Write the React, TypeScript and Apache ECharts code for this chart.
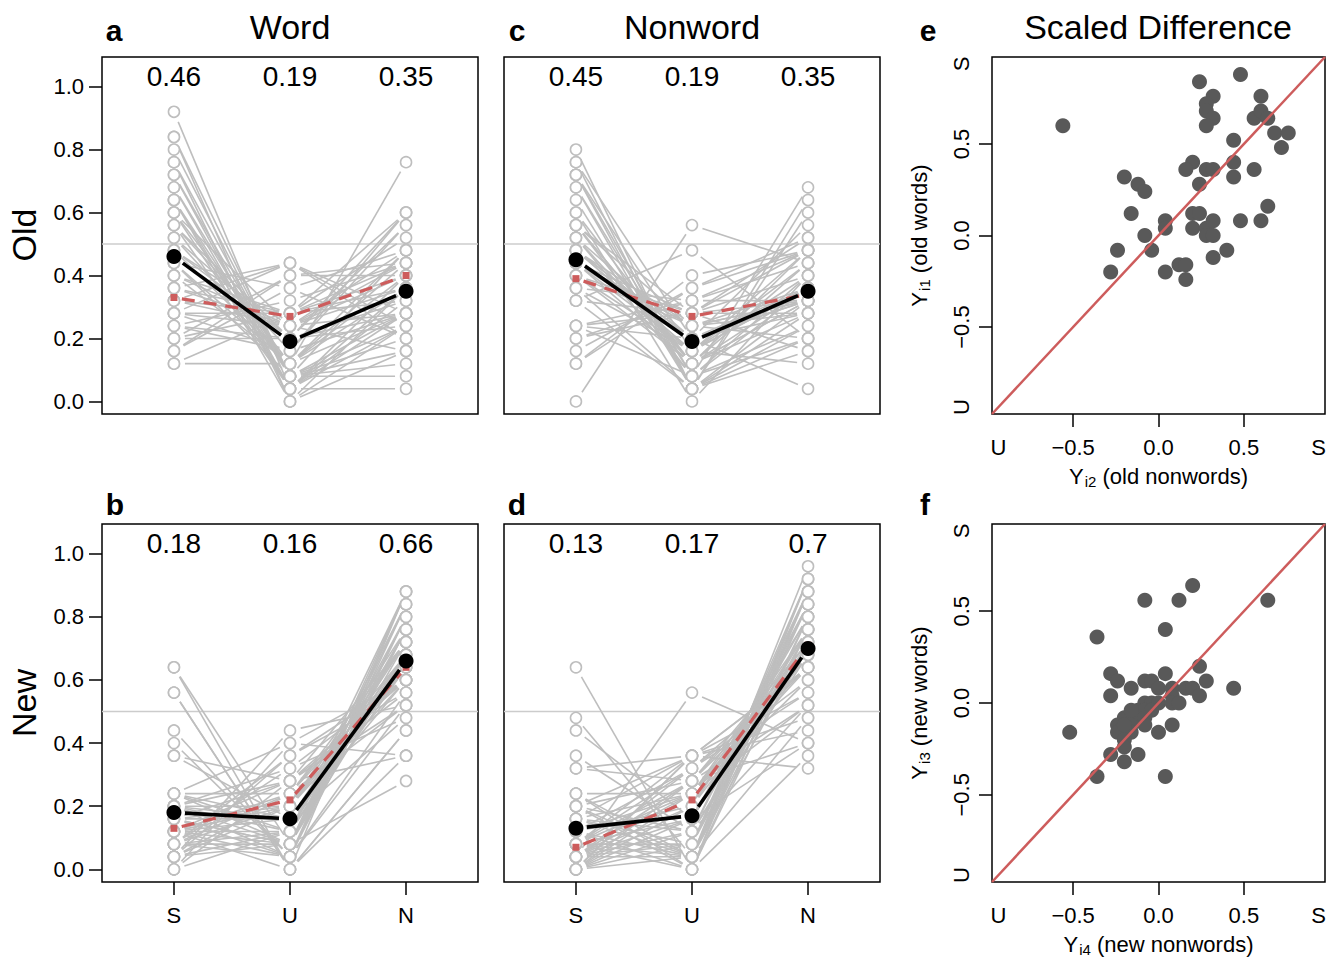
import React, { useEffect, useRef } from "react";
import * as echarts from "echarts";

const FONT = "'Liberation Sans', Arial, Helvetica, sans-serif";

// ---------- data ----------
const categories = ["S", "U", "N"];
const categoryPos = [1, 2, 3];
const yTicks = [0, 0.2, 0.4, 0.6, 0.8, 1.0];
const refLevel = 0.5;
const meanLabelLevel = 1.032;

// Panel a: old words (per subject)
const oldWordS = [0.64,0.84,0.92,0.84,0.76,0.80,0.72,0.72,0.68,0.68, 0.76,0.64,0.60,0.64,0.60,0.56,0.56,0.52,0.48,0.52, 0.56,0.44,0.60,0.48,0.44,0.40,0.48,0.40,0.36,0.32, 0.36,0.28,0.28,0.24,0.32,0.20,0.28,0.44,0.24,0.40, 0.12,0.20,0.24,0.16,0.20,0.12,0.28,0.16,0.32,0.36];
const oldWordU = [0.04,0.00,0.04,0.08,0.00,0.08,0.04,0.08,0.08,0.04, 0.08,0.00,0.04,0.08,0.12,0.04,0.16,0.20,0.12,0.12, 0.20,0.08,0.24,0.20,0.12,0.12,0.24,0.28,0.28,0.28, 0.24,0.16,0.24,0.20,0.24,0.20,0.28,0.36,0.16,0.24, 0.12,0.28,0.32,0.36,0.40,0.28,0.44,0.40,0.44,0.44];
const oldWordN = [0.32,0.16,0.04,0.08,0.24,0.12,0.24,0.20,0.24,0.28, 0.16,0.36,0.36,0.28,0.28,0.40,0.28,0.28,0.40,0.36, 0.24,0.48,0.16,0.32,0.44,0.48,0.28,0.32,0.36,0.40, 0.40,0.56,0.48,0.56,0.44,0.60,0.44,0.20,0.60,0.36, 0.76,0.52,0.44,0.48,0.40,0.60,0.28,0.44,0.24,0.20];
const oldWordMeans = [0.46, 0.19, 0.35];
const oldWordRed = [0.33, 0.27, 0.40];

// Panel c: old nonwords
const oldNonwordS = [0.00,0.44,0.60,0.64,0.48,0.48,0.40,0.52,0.44,0.72, 0.68,0.72,0.72,0.80,0.76,0.56,0.56,0.52,0.76,0.36, 0.44,0.56,0.44,0.40,0.16,0.20,0.20,0.32,0.24,0.32, 0.44,0.48,0.44,0.32,0.36,0.48,0.48,0.56,0.60,0.68, 0.24,0.12,0.24,0.12,0.36,0.40,0.40,0.24,0.56,0.52];
const oldNonwordU = [0.56,0.20,0.12,0.04,0.16,0.20,0.12,0.20,0.16,0.16, 0.08,0.08,0.04,0.04,0.04,0.12,0.12,0.08,0.20,0.16, 0.28,0.28,0.12,0.16,0.36,0.32,0.28,0.48,0.20,0.28, 0.24,0.24,0.24,0.04,0.04,0.20,0.16,0.08,0.00,0.04, 0.32,0.36,0.28,0.40,0.32,0.28,0.24,0.08,0.24,0.12];
const oldNonwordN = [0.44,0.36,0.28,0.32,0.36,0.32,0.48,0.28,0.40,0.12, 0.24,0.20,0.24,0.16,0.20,0.32,0.32,0.40,0.04,0.48, 0.28,0.16,0.44,0.44,0.48,0.48,0.52,0.20,0.56,0.40, 0.32,0.28,0.32,0.64,0.60,0.32,0.36,0.36,0.40,0.28, 0.44,0.52,0.48,0.48,0.32,0.32,0.36,0.68,0.20,0.36];
const oldNonwordMeans = [0.45, 0.19, 0.35];
const oldNonwordRed = [0.39, 0.27, 0.34];

// Panel b: new words
const newWordS = [0.64,0.56,0.64,0.56,0.40,0.44,0.36,0.24,0.16,0.20, 0.24,0.12,0.20,0.16,0.24,0.12,0.20,0.36,0.16,0.20, 0.12,0.08,0.16,0.08,0.12,0.20,0.24,0.16,0.08,0.12, 0.12,0.04,0.20,0.08,0.12,0.00,0.16,0.08,0.04,0.24, 0.12,0.04,0.08,0.08,0.00,0.04,0.04,0.00,0.20,0.04];
const newWordU = [0.00,0.00,0.08,0.00,0.04,0.04,0.16,0.08,0.04,0.04, 0.12,0.00,0.08,0.08,0.16,0.04,0.12,0.28,0.08,0.16, 0.08,0.04,0.16,0.08,0.12,0.20,0.24,0.20,0.12,0.16, 0.20,0.12,0.28,0.20,0.24,0.12,0.28,0.24,0.20,0.40, 0.28,0.24,0.32,0.36,0.28,0.36,0.44,0.40,0.32,0.08];
const newWordN = [0.36,0.44,0.28,0.44,0.56,0.52,0.48,0.68,0.80,0.76, 0.64,0.88,0.72,0.76,0.60,0.84,0.68,0.36,0.76,0.64, 0.80,0.88,0.68,0.84,0.76,0.60,0.52,0.64,0.80,0.72, 0.68,0.84,0.52,0.72,0.64,0.88,0.56,0.68,0.76,0.36, 0.60,0.72,0.60,0.56,0.72,0.60,0.52,0.60,0.48,0.88];
const newWordMeans = [0.18, 0.16, 0.66];
const newWordRed = [0.13, 0.22, 0.64];

// Panel d: new nonwords
const newNonwordS = [0.24,0.08,0.16,0.64,0.00,0.08,0.36,0.04,0.00,0.16, 0.04,0.32,0.44,0.04,0.08,0.12,0.20,0.20,0.48,0.00, 0.24,0.08,0.00,0.00,0.04,0.16,0.12,0.12,0.16,0.04, 0.00,0.04,0.12,0.08,0.00,0.20,0.20,0.04,0.08,0.04, 0.24,0.12,0.16,0.08,0.00,0.04,0.00,0.32,0.08,0.20];
const newNonwordU = [0.04,0.16,0.04,0.00,0.36,0.04,0.12,0.32,0.24,0.12, 0.12,0.36,0.16,0.20,0.08,0.04,0.04,0.00,0.04,0.28, 0.00,0.00,0.08,0.04,0.04,0.08,0.00,0.24,0.24,0.08, 0.20,0.16,0.20,0.32,0.16,0.28,0.12,0.28,0.24,0.56, 0.24,0.32,0.36,0.36,0.12,0.24,0.36,0.28,0.28,0.36];
const newNonwordN = [0.72,0.76,0.80,0.36,0.64,0.88,0.52,0.64,0.76,0.72, 0.84,0.32,0.40,0.76,0.84,0.84,0.76,0.80,0.48,0.72, 0.76,0.92,0.92,0.96,0.92,0.76,0.88,0.64,0.60,0.88, 0.80,0.80,0.68,0.60,0.84,0.52,0.68,0.68,0.68,0.40, 0.52,0.56,0.48,0.56,0.88,0.72,0.64,0.40,0.64,0.44];
const newNonwordMeans = [0.13, 0.17, 0.7];
const newNonwordRed = [0.07, 0.22, 0.71];

// Panel e: scaled differences, old items
const oldNonwordDiff = [-0.56,0.24,0.48,0.60,0.32,0.28,0.28,0.32,0.28,0.56, 0.60,0.64,0.68,0.76,0.72,0.44,0.44,0.44,0.56,0.20, 0.16,0.28,0.32,0.24,-0.20,-0.12,-0.08,-0.16,0.04,0.04, 0.20,0.24,0.20,0.28,0.32,0.28,0.32,0.48,0.60,0.64, -0.08,-0.24,-0.04,-0.28,0.04,0.12,0.16,0.16,0.32,0.40];
const oldWordDiff = [0.60,0.84,0.88,0.76,0.76,0.72,0.68,0.64,0.60,0.64, 0.68,0.64,0.56,0.56,0.48,0.52,0.40,0.32,0.36,0.40, 0.36,0.36,0.36,0.28,0.32,0.28,0.24,0.12,0.08,0.04, 0.12,0.12,0.04,0.04,0.08,0.00,0.00,0.08,0.08,0.16, 0.00,-0.08,-0.08,-0.20,-0.20,-0.16,-0.16,-0.24,-0.12,-0.08];

// Panel f: scaled differences, new items
const newNonwordDiff = [0.20,-0.08,0.12,0.64,-0.36,0.04,0.24,-0.28,-0.24,0.04, -0.08,-0.04,0.28,-0.16,0.00,0.08,0.16,0.20,0.44,-0.28, 0.24,0.08,-0.08,-0.04,0.00,0.08,0.12,-0.12,-0.08,-0.04, -0.20,-0.12,-0.08,-0.24,-0.16,-0.08,0.08,-0.24,-0.16,-0.52, 0.00,-0.20,-0.20,-0.28,-0.12,-0.20,-0.36,0.04,-0.20,-0.16];
const newWordDiff = [0.64,0.56,0.56,0.56,0.36,0.40,0.20,0.16,0.12,0.16, 0.12,0.12,0.12,0.08,0.08,0.08,0.08,0.08,0.08,0.04, 0.04,0.04,0.00,0.00,0.00,0.00,0.00,-0.04,-0.04,-0.04, -0.08,-0.08,-0.08,-0.12,-0.12,-0.12,-0.12,-0.16,-0.16,-0.16, -0.16,-0.20,-0.24,-0.28,-0.28,-0.32,-0.40,-0.40,-0.12,-0.04];

const scatterTicks = [-0.5, 0, 0.5];
const scatterEnds = [-0.9375, 0.9375];
const scatterLim = 0.975;

// ---------- styling ----------
const GRAY = "#bebebe";
const RED = "#cd5c5c";
const DOT = "#595959";
const lineXMin = 0.38;
const lineXMax = 3.62;
const lineYMin = -0.04;
const lineYMax = 1.094;

function profileRenderer(color: string, width: number, gap: number, dash?: number[]) {
  return (params: any, api: any) => {
    const pts = [0, 1, 2].map((k) => api.coord([categoryPos[k], api.value(k)]));
    const children: any[] = [];
    for (let k = 0; k < 2; k++) {
      const a = pts[k];
      const b = pts[k + 1];
      const dx = b[0] - a[0];
      const dy = b[1] - a[1];
      const len = Math.hypot(dx, dy);
      if (len <= 2 * gap) continue;
      const ux = dx / len;
      const uy = dy / len;
      children.push({
        type: "line",
        shape: { x1: a[0] + ux * gap, y1: a[1] + uy * gap, x2: b[0] - ux * gap, y2: b[1] - uy * gap },
        style: { stroke: color, lineWidth: width, lineDash: dash || null, fill: null },
      });
    }
    return { type: "group", children };
  };
}

function linePanelSeries(gi: number, S: number[], U: number[], N: number[], means: number[], red: number[]) {
  const rows = S.map((s, i) => [s, U[i], N[i]]);
  const circles: number[][] = [];
  S.forEach((s, i) => {
    circles.push([categoryPos[0], s], [categoryPos[1], U[i]], [categoryPos[2], N[i]]);
  });
  const ax = { xAxisIndex: gi, yAxisIndex: gi };
  return [
    {
      type: "line", ...ax, silent: true, symbol: "none",
      data: [[lineXMin, refLevel], [lineXMax, refLevel]],
      lineStyle: { color: "#cccccc", width: 1.5 }, z: 1,
    },
    { type: "custom", ...ax, silent: true, data: rows, renderItem: profileRenderer(GRAY, 1.6, 11), z: 2 },
    {
      type: "scatter", ...ax, silent: true, data: circles, symbol: "circle", symbolSize: 11,
      itemStyle: { color: "#ffffff", borderColor: GRAY, borderWidth: 1.6, opacity: 1 }, z: 3,
    },
    { type: "custom", ...ax, silent: true, data: [red], renderItem: profileRenderer(RED, 3.2, 8, [13, 9]), z: 4 },
    {
      type: "scatter", ...ax, silent: true, data: red.map((v, k) => [categoryPos[k], v]),
      symbol: "rect", symbolSize: 7, itemStyle: { color: RED, opacity: 1 }, z: 4,
    },
    { type: "custom", ...ax, silent: true, data: [means], renderItem: profileRenderer("#000", 3.6, 11), z: 5 },
    {
      type: "scatter", ...ax, silent: true, data: means.map((v, k) => [categoryPos[k], v]),
      symbol: "circle", symbolSize: 15, itemStyle: { color: "#000", opacity: 1 }, z: 6,
    },
    {
      type: "scatter", ...ax, silent: true,
      data: means.map((v, k) => [categoryPos[k], meanLabelLevel, v]),
      symbol: "circle", symbolSize: 2, itemStyle: { color: "rgba(0,0,0,0)", opacity: 1 }, z: 6,
      label: {
        show: true, position: "inside", color: "#000", opacity: 1, fontSize: 28, fontFamily: FONT,
        formatter: (p: any) => String(p.data[2]),
      },
    },
  ];
}

function scatterPanelSeries(gi: number, xs: number[], ys: number[]) {
  const ax = { xAxisIndex: gi, yAxisIndex: gi };
  return [
    {
      type: "scatter", ...ax, silent: true, data: xs.map((x, i) => [x, ys[i]]),
      symbol: "circle", symbolSize: 15, itemStyle: { color: DOT, opacity: 1 }, z: 3,
    },
    {
      type: "line", ...ax, silent: true, symbol: "none",
      data: [[-scatterLim, -scatterLim], [scatterLim, scatterLim]],
      lineStyle: { color: RED, width: 2.5 }, z: 4,
    },
  ];
}

const tickStyle = { color: "#000", width: 1.5 };
const noLine = { show: false, onZero: false };

function lineXAxis(gi: number, show: boolean) {
  return {
    gridIndex: gi, type: "value", min: lineXMin, max: lineXMax, position: "bottom",
    axisLine: noLine, splitLine: { show: false },
    axisTick: { show, customValues: categoryPos, length: 13, lineStyle: tickStyle },
    axisLabel: {
      show, customValues: categoryPos, margin: 22, fontSize: 22, color: "#000", fontFamily: FONT,
      formatter: (v: number) => categories[Math.round(v) - 1],
    },
  };
}

function lineYAxis(gi: number, show: boolean) {
  return {
    gridIndex: gi, type: "value", min: lineYMin, max: lineYMax, position: "left",
    axisLine: noLine, splitLine: { show: false },
    axisTick: { show, customValues: yTicks, length: 13, lineStyle: tickStyle },
    axisLabel: {
      show, customValues: yTicks, margin: 18, fontSize: 22, color: "#000", fontFamily: FONT,
      formatter: (v: number) => v.toFixed(1),
    },
  };
}

function scatterLabel(v: number) {
  if (v <= scatterEnds[0] + 1e-6) return "U";
  if (v >= scatterEnds[1] - 1e-6) return "S";
  return (v < 0 ? "\u2212" : "") + Math.abs(v).toFixed(1);
}

const nameRich = {
  m: { fontSize: 22, lineHeight: 24, fontFamily: FONT, color: "#000", verticalAlign: "top" },
  s: { fontSize: 15, lineHeight: 16, fontFamily: FONT, color: "#000", verticalAlign: "top", padding: [9, 0, 0, 1] },
};

function scatterXAxis(gi: number, sub: string, rest: string) {
  return {
    gridIndex: gi, type: "value", min: -scatterLim, max: scatterLim, position: "bottom",
    axisLine: noLine, splitLine: { show: false },
    axisTick: { show: true, customValues: scatterTicks, length: 13, lineStyle: tickStyle },
    axisLabel: {
      show: true, customValues: [scatterEnds[0], ...scatterTicks, scatterEnds[1]], margin: 22,
      fontSize: 22, color: "#000", fontFamily: FONT, formatter: scatterLabel,
    },
    name: `{m|Y}{s|${sub}}{m| ${rest}}`, nameLocation: "middle", nameGap: 51,
    nameTextStyle: { fontSize: 22, fontFamily: FONT, color: "#000", rich: nameRich },
  };
}

function scatterYAxis(gi: number, sub: string, rest: string) {
  return {
    gridIndex: gi, type: "value", min: -scatterLim, max: scatterLim, position: "left",
    axisLine: noLine, splitLine: { show: false },
    axisTick: { show: true, customValues: scatterTicks, length: 13, lineStyle: tickStyle },
    axisLabel: {
      show: true, customValues: [scatterEnds[0], ...scatterTicks, scatterEnds[1]], margin: 20, rotate: 90,
      fontSize: 22, color: "#000", fontFamily: FONT, formatter: scatterLabel,
    },
    name: `{m|Y}{s|${sub}}{m| ${rest}}`, nameLocation: "middle", nameGap: 60, nameRotate: 90,
    nameTextStyle: { fontSize: 22, fontFamily: FONT, color: "#000", rich: nameRich },
  };
}

function txt(text: string, x: number, y: number, size: number, bold = false, rot = 0) {
  return {
    type: "text", x, y, rotation: rot, silent: true,
    style: {
      text, fill: "#000", fontSize: size, fontFamily: FONT, fontWeight: bold ? "bold" : "normal",
      align: "center", verticalAlign: "middle", textAlign: "center", textVerticalAlign: "middle",
    },
  };
}

export default function App() {
  const ref = useRef<HTMLDivElement>(null);
  useEffect(() => {
    if (!ref.current) return;
    const chart = echarts.init(ref.current, undefined, { renderer: "svg" });
    const gridBase = {
      show: true, borderColor: "#000", borderWidth: 1.5, backgroundColor: "transparent",
      containLabel: false, outerBoundsMode: "none",
    };
    const option: any = {
      animation: false,
      backgroundColor: "#ffffff",
      grid: [
        { ...gridBase, left: 102, top: 57, width: 376, height: 357 },
        { ...gridBase, left: 504, top: 57, width: 376, height: 357 },
        { ...gridBase, left: 992, top: 57, width: 333, height: 357 },
        { ...gridBase, left: 102, top: 524, width: 376, height: 358 },
        { ...gridBase, left: 504, top: 524, width: 376, height: 358 },
        { ...gridBase, left: 992, top: 524, width: 333, height: 358 },
      ],
      xAxis: [
        lineXAxis(0, false),
        lineXAxis(1, false),
        scatterXAxis(2, "i2", "(old nonwords)"),
        lineXAxis(3, true),
        lineXAxis(4, true),
        scatterXAxis(5, "i4", "(new nonwords)"),
      ],
      yAxis: [
        lineYAxis(0, true),
        lineYAxis(1, false),
        scatterYAxis(2, "i1", "(old words)"),
        lineYAxis(3, true),
        lineYAxis(4, false),
        scatterYAxis(5, "i3", "(new words)"),
      ],
      series: [
        ...linePanelSeries(0, oldWordS, oldWordU, oldWordN, oldWordMeans, oldWordRed),
        ...linePanelSeries(1, oldNonwordS, oldNonwordU, oldNonwordN, oldNonwordMeans, oldNonwordRed),
        ...scatterPanelSeries(2, oldNonwordDiff, oldWordDiff),
        ...linePanelSeries(3, newWordS, newWordU, newWordN, newWordMeans, newWordRed),
        ...linePanelSeries(4, newNonwordS, newNonwordU, newNonwordN, newNonwordMeans, newNonwordRed),
        ...scatterPanelSeries(5, newNonwordDiff, newWordDiff),
      ],
      graphic: [
        txt("Word", 290, 27, 34),
        txt("Nonword", 692, 27, 34),
        txt("Scaled Difference", 1158, 27, 34),
        txt("a", 114, 30, 30, true),
        txt("c", 517, 30, 30, true),
        txt("e", 928, 30, 30, true),
        txt("b", 115, 504, 30, true),
        txt("d", 517, 504, 30, true),
        txt("f", 925, 504, 30, true),
        txt("Old", 24, 235, 34, false, Math.PI / 2),
        txt("New", 24, 703, 34, false, Math.PI / 2),
      ],
    };
    chart.setOption(option);
    return () => chart.dispose();
  }, []);
  return (
    <div
      ref={ref}
      style={{ position: "absolute", left: 0, top: 0, width: 1329, height: 959, background: "#fff" }}
    />
  );
}
